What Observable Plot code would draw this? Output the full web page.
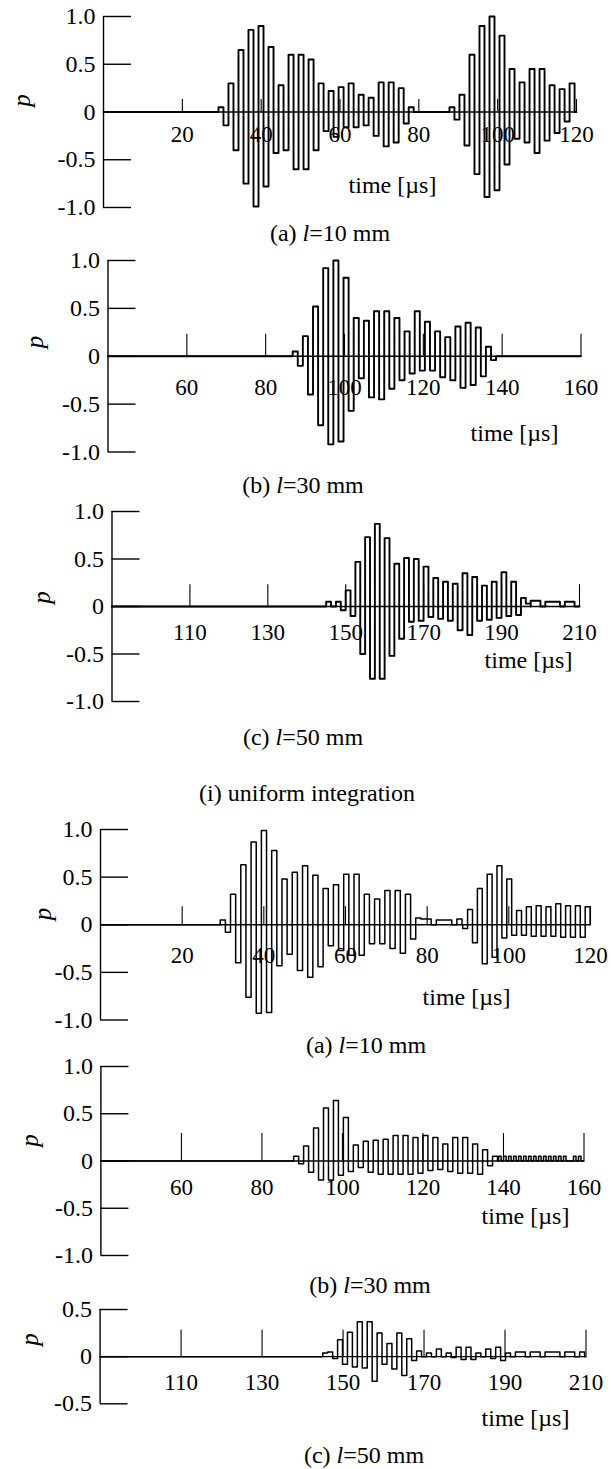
<!DOCTYPE html>
<html><head><meta charset="utf-8">
<script src="https://cdn.jsdelivr.net/npm/d3@7"></script>
<script src="https://cdn.jsdelivr.net/npm/@observablehq/plot@0.6"></script>
<style>
body{margin:0;background:#fff;}
#root{position:relative;width:611px;height:1469px;overflow:hidden;font-family:'Liberation Serif','Times New Roman',serif;color:#000;background:#fff;}
.cap{position:absolute;font-size:24px;line-height:1;white-space:nowrap;transform:translate(-50%,-50%);}
svg.panel{position:absolute;left:0;}
</style></head><body><div id="root"></div>
<script>
// ---------- tick values / labels ----------
const yTicksFull = [-1, -0.5, 0, 0.5, 1];
const yTickLabelsFull = ["-1.0", "-0.5", "0", "0.5", "1.0"];
const yTicksHalf = [-0.5, 0, 0.5];
const yTickLabelsHalf = ["-0.5", "0", "0.5"];
const xTicks10 = [20, 40, 60, 80, 100, 120];
const xTicks30 = [60, 80, 100, 120, 140, 160];
const xTicks50 = [110, 130, 150, 170, 190, 210];

// ---------- (i) uniform integration : sampled pressure p (held per half cycle) ----------
// l = 10 mm
const u10_b1_start = 29.8, u10_b1_step = 1.27;
const u10_b1 = [0.05,-0.14,0.30,-0.40,0.65,-0.75,0.86,-0.99,0.90,-0.78,0.68,-0.43,0.28,-0.40,0.60,-0.60,0.60,-0.60,0.55,-0.40,0.30,-0.20,0.22,-0.26,0.26,-0.16,0.30,-0.16,0.18,-0.14,0.15,-0.25,0.31,-0.36,0.31,-0.32,0.25,-0.12,0.05];
const u10_b2_start = 88.4, u10_b2_step = 1.27;
const u10_b2 = [0.05,-0.08,0.18,-0.35,0.60,-0.65,0.90,-0.89,1.00,-0.82,0.80,-0.55,0.45,-0.28,0.31,-0.32,0.45,-0.43,0.45,-0.30,0.28,-0.22,0.24,-0.10,0.30];
// l = 30 mm
const u30_b1_start = 87.5, u30_b1_step = 1.29;
const u30_b1 = [0.05,-0.10,0.21,-0.40,0.52,-0.72,0.92,-0.92,1.00,-0.89,0.82,-0.57,0.40,-0.23,0.37,-0.43,0.47,-0.45,0.47,-0.34,0.40,-0.25,0.26,-0.18,0.47,-0.15,0.36,-0.15,0.26,-0.22,0.20,-0.25,0.31,-0.33,0.35,-0.30,0.30,-0.21,0.10,-0.04];
// l = 50 mm
const u50_b1_start = 145.6, u50_b1_step = 1.25;
const u50_b1 = [0.05,0,0.05,-0.04,0.17,-0.10,0.47,-0.50,0.73,-0.76,0.87,-0.76,0.72,-0.52,0.45,-0.34,0.51,-0.16,0.50,-0.15,0.42,-0.11,0.30,-0.13,0.26,-0.15,0.24,-0.25,0.35,-0.30,0.31,-0.15,0.22,-0.14,0.26,-0.12,0.36,-0.10,0.26,-0.09,0.09,0.03];
const u50_b2_start = 198.1, u50_b2_step = 1.25;
const u50_b2 = [0.06,0.06,0,0.05,0.05,0.05,0,0.05,0.05];

// ---------- second group ----------
// l = 10 mm
const n10_b1_start = 29.95, n10_b1_step = 1.26;
const n10_b1 = [0.05,-0.08,0.32,-0.40,0.63,-0.76,0.87,-0.93,0.99,-0.92,0.78,-0.43,0.48,-0.31,0.55,-0.48,0.62,-0.55,0.52,-0.44,0.38,-0.22,0.42,-0.27,0.53,-0.32,0.53,-0.32,0.32,-0.20,0.27,-0.20,0.36,-0.25,0.36,-0.30,0.32,-0.15,0.07,0.06,0.06,0,0.05,0.05,0.05,0,0.06];
const n10_b2_start = 89.3, n10_b2_step = 1.2;
const n10_b2 = [-0.04,0.16,-0.19,0.38,-0.41,0.53,-0.34,0.62,-0.14,0.48,-0.11,0.15,-0.11,0.19,-0.12,0.20,-0.12,0.19,-0.12,0.22,-0.13,0.20,-0.13,0.20,-0.13,0.19];
// l = 30 mm
const n30_b1_start = 88.5, n30_b1_step = 1.235;
const n30_b1 = [0.05,-0.03,0.16,-0.12,0.35,-0.20,0.56,-0.20,0.64,-0.15,0.46,-0.11,0.17,-0.07,0.21,-0.12,0.22,-0.14,0.23,-0.14,0.27,-0.14,0.27,-0.14,0.25,-0.13,0.27,-0.10,0.25,-0.09,0.18,-0.11,0.25,-0.13,0.25,-0.13,0.18,-0.14,0.12,-0.05,0.05];
const n30_b2_start = 139.1, n30_b2_step = 0.62;
const n30_b2 = [0.05,0,0.05,0,0.05,0,0.05,0,0.05,0,0.05,0,0.05,0,0.05,0,0.05,0,0.05,0,0.05,0,0.05,0,0.05,0,0.05,0,0,0,0.05,0,0.05];
// l = 50 mm
const n50_b1_start = 145.6, n50_b1_step = 1.22;
const n50_b1 = [0.04,0.05,-0.02,0.18,-0.08,0.26,-0.11,0.37,-0.12,0.37,-0.26,0.25,-0.08,0.14,-0.13,0.25,-0.20,0.19,-0.04,0.06,0,0.04,0,0.08,0,0.04,-0.01,0.10,-0.03,0.10,-0.03,0.04,0,0.08,-0.02,0.10,-0.04,0.04,0,0.05,0.05,0,0.05,0.05,0,0.05,0.05,0.05,0,0.05,0.05,0,0.05];

// ---------- build ----------
const FONT = "'Liberation Serif','Times New Roman',serif";
function buildSignal(domain, bursts) {
  const pts = [{t: domain[0], v: 0}];
  for (const b of bursts) {
    b.values.forEach((v, i) => pts.push({t: b.start + i * b.step - b.step / 2, v}));
    pts.push({t: b.start + b.values.length * b.step - b.step / 2, v: 0});
  }
  pts.push({t: domain[1], v: 0});
  return pts;
}

const panels = [
  {domain:[0,120], yDomain:[-1,1], x0:103, x1:576, yTop:16, yBot:207, tickLen:0.13, xTicks:xTicks10, xLabelDy:23,
   timeX:392, timeY:185, pX:21.5, pY:100, sw:1.9, yTicks:yTicksFull, yLabels:yTickLabelsFull,
   bursts:[{start:u10_b1_start, step:u10_b1_step, values:u10_b1},{start:u10_b2_start, step:u10_b2_step, values:u10_b2}],
   cap:{html:"(a) <i>l</i>=10 mm", x:330, y:233}},
  {domain:[40,160], yDomain:[-1,1], x0:107.5, x1:580.5, yTop:259.5, yBot:451, tickLen:0.23, xTicks:xTicks30, xLabelDy:31,
   timeX:514, timeY:432, pX:34, pY:341, sw:1.9, yTicks:yTicksFull, yLabels:yTickLabelsFull,
   bursts:[{start:u30_b1_start, step:u30_b1_step, values:u30_b1}],
   cap:{html:"(b) <i>l</i>=30 mm", x:303, y:485}},
  {domain:[90,210], yDomain:[-1,1], x0:111.5, x1:579, yTop:511, yBot:701, tickLen:0.23, xTicks:xTicks50, xLabelDy:26,
   timeX:528, timeY:660, pX:41.5, pY:597, sw:1.9, yTicks:yTicksFull, yLabels:yTickLabelsFull,
   bursts:[{start:u50_b1_start, step:u50_b1_step, values:u50_b1},{start:u50_b2_start, step:u50_b2_step, values:u50_b2}],
   cap:{html:"(c) <i>l</i>=50 mm", x:303, y:737}},
  {domain:[0,120], yDomain:[-1,1], x0:100, x1:590, yTop:828.5, yBot:1019, tickLen:0.19, xTicks:xTicks10, xLabelDy:31,
   timeX:466, timeY:996, pX:42, pY:913, sw:1.5, yTicks:yTicksFull, yLabels:yTickLabelsFull,
   bursts:[{start:n10_b1_start, step:n10_b1_step, values:n10_b1},{start:n10_b2_start, step:n10_b2_step, values:n10_b2}],
   cap:{html:"(a) <i>l</i>=10 mm", x:366, y:1045}},
  {domain:[40,160], yDomain:[-1,1], x0:100.4, x1:583.5, yTop:1066, yBot:1255, tickLen:0.29, xTicks:xTicks30, xLabelDy:27,
   timeX:525, timeY:1216, pX:29, pY:1140, sw:1.5, yTicks:yTicksFull, yLabels:yTickLabelsFull,
   bursts:[{start:n30_b1_start, step:n30_b1_step, values:n30_b1},{start:n30_b2_start, step:n30_b2_step, values:n30_b2}],
   cap:{html:"(b) <i>l</i>=30 mm", x:370, y:1285}},
  {domain:[90,210], yDomain:[-0.5,0.5], x0:99.6, x1:585.5, yTop:1309, yBot:1403.3, tickLen:0.28, xTicks:xTicks50, xLabelDy:26,
   timeX:525, timeY:1418, pX:29, pY:1339, sw:1.5, yTicks:yTicksHalf, yLabels:yTickLabelsHalf,
   bursts:[{start:n50_b1_start, step:n50_b1_step, values:n50_b1}],
   cap:{html:"(c) <i>l</i>=50 mm", x:364, y:1455}}
];

const root = document.getElementById("root");
for (const cfg of panels) {
  const T = cfg.yTop - 22;
  const B = Math.max(cfg.yBot, cfg.timeY + 16) + 6;
  const H = B - T;
  const [d0, d1] = cfg.domain;
  const pts = buildSignal(cfg.domain, cfg.bursts);
  const yTickLenData = 28 / ((cfg.x1 - cfg.x0) / (d1 - d0));
  const svg = Plot.plot({
    width: 611, height: H, margin: 0,
    x: {domain: cfg.domain, range: [cfg.x0, cfg.x1], axis: null},
    y: {domain: cfg.yDomain, range: [cfg.yBot - T, cfg.yTop - T], axis: null},
    style: {fontFamily: FONT, background: "transparent", overflow: "visible", color: "#000"},
    marks: [
      Plot.ruleY([0], {x1: d0, x2: d1, stroke: "#000", strokeWidth: 1.3}),
      Plot.ruleX([d0], {y1: cfg.yDomain[0], y2: cfg.yDomain[1], stroke: "#000", strokeWidth: 1.4}),
      Plot.ruleY(cfg.yTicks, {y: d => d, x1: d0, x2: d0 + yTickLenData, stroke: "#000", strokeWidth: 1.4}),
      Plot.ruleX(cfg.xTicks, {x: d => d, y1: 0, y2: cfg.tickLen, stroke: "#000", strokeWidth: 1.1}),
      Plot.line(pts, {x: "t", y: "v", curve: "step-after", stroke: "#000", strokeWidth: cfg.sw}),
      Plot.text(cfg.yTicks, {x: d0, y: d => d, text: (d, i) => cfg.yLabels[i], textAnchor: "end", dx: -8, fontSize: 24, fill: "#000"}),
      Plot.text(cfg.xTicks, {x: d => d, y: () => 0, text: d => String(d), dy: cfg.xLabelDy, fontSize: 23, fill: "#000"}),
      Plot.text(["time [µs]"], {frameAnchor: "top-left", textAnchor: "middle", lineAnchor: "middle", dx: cfg.timeX, dy: cfg.timeY - T, text: d => d, fontSize: 24, fill: "#000"}),
      Plot.text(["p"], {frameAnchor: "top-left", textAnchor: "middle", lineAnchor: "middle", dx: cfg.pX, dy: cfg.pY - T, text: d => d, rotate: -90, fontStyle: "italic", fontSize: 25, fill: "#000"})
    ]
  });
  svg.classList.add("panel");
  svg.style.top = T + "px";
  root.appendChild(svg);
  const cap = document.createElement("div");
  cap.className = "cap";
  cap.innerHTML = cfg.cap.html;
  cap.style.left = cfg.cap.x + "px";
  cap.style.top = cfg.cap.y + "px";
  root.appendChild(cap);
}
const mid = document.createElement("div");
mid.className = "cap";
mid.textContent = "(i) uniform integration";
mid.style.left = "307px";
mid.style.top = "793px";
root.appendChild(mid);
</script></body></html>
